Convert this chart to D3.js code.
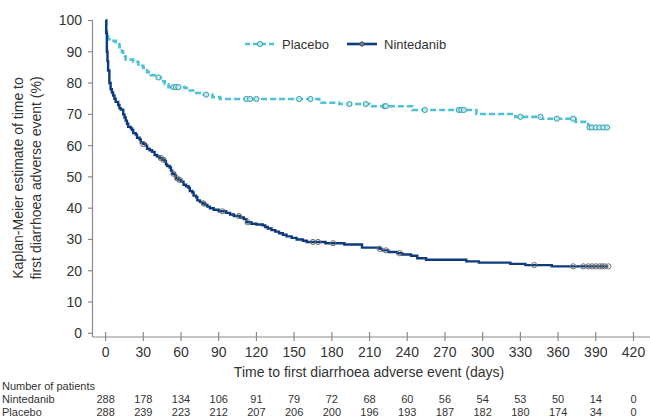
<!DOCTYPE html>
<html>
<head>
<meta charset="utf-8">
<script src="https://cdn.jsdelivr.net/npm/d3@7"></script>
<style>
  body { margin: 0; background: #fff; }
  text { font-family: "Liberation Sans", Arial, sans-serif; fill: #333; }
</style>
</head>
<body>
<div id="chart"></div>
<script>
const width = 650;
const height = 418;

// Kaplan-Meier steps [day, %]
const nintedanibSteps = [
  [0,100],[0.5,96],[1,90],[1.5,87],[2,84],[3,80],[4,78],[5,77],[6,76],[7,75],[8,74],[10,73],[11,72],
  [12,71.5],[14,70],[15,69],[16,68],[17,67],[18,66],[20,65.5],[21,65],[22,64],[24,63.5],[25,62.5],
  [27,62],[28,61],[30,60.5],[32,60],[33,59],[35,58.5],[37,58],[39,57],[41,56.5],[43,56],[45,55.5],
  [47,55],[48,54],[49,53.5],[51,53],[52,52],[53,51],[55,50.5],[56,49.5],[58,49],[60,48.5],[62,47.5],
  [64,47],[66,46.5],[67,45.5],[69,45],[70,44],[72,43.5],[73,42.5],[75,42],[77,41.5],[79,41],[81,40.5],
  [83,40],[86,39.5],[90,39],[96,38.5],[99,38],[102,37.5],[107,37],[110,36.5],[112,35.5],[116,35],
  [120,34.8],[125,34.5],[127,34],[129,33.5],[132,33],[135,32.5],[138,32],[141,31.5],[144,31],
  [148,30.5],[152,30],[157,29.6],[160,29.2],[175,28.8],[190,28.4],[204,27.4],[218,27],[220,26.5],
  [225,26],[232,25.6],[236,25.2],[243,24.8],[248,24],[255,23.5],[287,23],[297,22.6],[322,22.2],
  [334,21.8],[355,21.4],[400,21.4]
];
const placeboSteps = [
  [0,100],[0.5,96.5],[1,95],[2,94],[5,93.5],[8,92.5],[11,91.5],[13,90],[14,88.5],[16,87.5],[22,86.8],
  [26,85.5],[30,84.8],[33,83.5],[36,82.5],[40,81.8],[44,80.6],[47,79.6],[50,78.7],[63,78.4],[67,77.6],
  [71,76.8],[76,76.3],[85,75.5],[91,74.9],[170,73.7],[186,73.3],[210,72.6],[244,71.4],[295,70.1],
  [326,69.2],[347,68.6],[374,67.6],[384,65.8],[400,65.8]
];

// censored observations (days)
const nintedanibCensor = [30,44,46,54,57,59,78,93,106,113,165,169,181,218,223,234,341,372,380,384,387,390,393,395,397,400];
const placeboCensor = [42,54,56,58,80,112,115,120,154,163,194,207,222,223,254,281,283,285,330,346,359,372,385,387,390,393,396,399];

// number at risk
const riskDays = [0,30,60,90,120,150,180,210,240,270,300,330,360,390,420];
const nintedanibRisk = [288,178,134,106,91,79,72,68,60,56,54,53,50,14,0];
const placeboRisk = [288,239,223,212,207,206,200,196,193,187,182,180,174,34,0];

const yTicks = [0,10,20,30,40,50,60,70,80,90,100];

const cNint = "#0d3b7e";
const cPlac = "#4cc2d4";

const svg = d3.select("#chart").append("svg")
  .attr("width", width)
  .attr("height", height);

const x = d3.scaleLinear().domain([0, 420]).range([105.6, 633.5]);
const y = d3.scaleLinear().domain([0, 100]).range([333.3, 20.5]);

// axes
const axisColor = "#8a8a8a";
svg.append("line").attr("x1", 92.5).attr("x2", 92.5).attr("y1", 20).attr("y2", 337)
  .attr("stroke", axisColor).attr("stroke-width", 1.2);
svg.append("line").attr("x1", 92.5).attr("x2", 650).attr("y1", 337).attr("y2", 337)
  .attr("stroke", axisColor).attr("stroke-width", 1.2);

const yAxis = svg.append("g")
  .selectAll("g").data(yTicks).enter().append("g")
  .attr("transform", d => `translate(0,${y(d)})`);
yAxis.append("line").attr("x1", 88).attr("x2", 92.5).attr("stroke", axisColor).attr("stroke-width", 1.2);
yAxis.append("text").attr("x", 82).attr("dy", "0.35em").attr("text-anchor", "end")
  .style("font-size", "14px").text(d => d);

const xAxis = svg.append("g")
  .selectAll("g").data(riskDays).enter().append("g")
  .attr("transform", d => `translate(${x(d)},0)`);
xAxis.append("line").attr("y1", 332).attr("y2", 341).attr("stroke", axisColor).attr("stroke-width", 1.2);
xAxis.append("text").attr("y", 352).attr("dy", "0.35em").attr("text-anchor", "middle")
  .style("font-size", "14px").text(d => d);

// axis titles
svg.append("text").attr("x", 369).attr("y", 372).attr("dy", "0.35em").attr("text-anchor", "middle")
  .style("font-size", "14px").text("Time to first diarrhoea adverse event (days)");
const yTitle = svg.append("text").attr("transform", "translate(0,178) rotate(-90)")
  .attr("text-anchor", "middle").style("font-size", "14px");
yTitle.append("tspan").attr("x", 0).attr("y", 23).text("Kaplan-Meier estimate of time to");
yTitle.append("tspan").attr("x", 0).attr("y", 41).text("first diarrhoea adverse event (%)");

// curves
const line = d3.line().x(d => x(d[0])).y(d => y(d[1])).curve(d3.curveStepAfter);

svg.append("path").datum(placeboSteps).attr("d", line)
  .attr("fill", "none").attr("stroke", cPlac).attr("stroke-width", 2.6)
  .attr("stroke-dasharray", "6,3");
svg.append("path").datum(nintedanibSteps).attr("d", line)
  .attr("fill", "none").attr("stroke", cNint).attr("stroke-width", 2.4);

function survAt(steps, t) {
  let v = steps[0][1];
  for (const s of steps) { if (s[0] <= t) v = s[1]; }
  return v;
}

svg.append("g").selectAll("circle").data(placeboCensor).enter().append("circle")
  .attr("cx", d => x(d)).attr("cy", d => y(survAt(placeboSteps, d)))
  .attr("r", 2.6).attr("fill", "#bfe9ef").attr("stroke", "#3a9fb0").attr("stroke-width", 1);
svg.append("g").selectAll("circle").data(nintedanibCensor).enter().append("circle")
  .attr("cx", d => x(d)).attr("cy", d => y(survAt(nintedanibSteps, d)))
  .attr("r", 2.6).attr("fill", "none").attr("stroke", "#6d6d6d").attr("stroke-width", 1);

// legend
const lg = svg.append("g");
lg.append("line").attr("x1", 245).attr("x2", 276).attr("y1", 44).attr("y2", 44)
  .attr("stroke", cPlac).attr("stroke-width", 2.6).attr("stroke-dasharray", "5,3");
lg.append("circle").attr("cx", 260).attr("cy", 44).attr("r", 2.6)
  .attr("fill", "#bfe9ef").attr("stroke", "#3a9fb0");
lg.append("text").attr("x", 282).attr("y", 44).attr("dy", "0.35em").style("font-size", "13px").text("Placebo");
lg.append("line").attr("x1", 347).attr("x2", 377).attr("y1", 44).attr("y2", 44)
  .attr("stroke", cNint).attr("stroke-width", 2.6);
lg.append("circle").attr("cx", 362).attr("cy", 44).attr("r", 2.2)
  .attr("fill", "#6d7d99").attr("stroke", "#555");
lg.append("text").attr("x", 384).attr("y", 44).attr("dy", "0.35em").style("font-size", "13px").text("Nintedanib");

// number at risk table
const risk = svg.append("g").style("font-size", "11px");
risk.append("text").attr("x", 2).attr("y", 386).attr("dy", "0.35em").text("Number of patients");
risk.append("text").attr("x", 2).attr("y", 399.5).attr("dy", "0.35em").text("Nintedanib");
risk.append("text").attr("x", 2).attr("y", 412).attr("dy", "0.35em").text("Placebo");
risk.selectAll("text.n").data(nintedanibRisk).enter().append("text").attr("class", "n")
  .attr("x", (d, i) => x(riskDays[i])).attr("y", 399.5).attr("dy", "0.35em")
  .attr("text-anchor", "middle").text(d => d);
risk.selectAll("text.p").data(placeboRisk).enter().append("text").attr("class", "p")
  .attr("x", (d, i) => x(riskDays[i])).attr("y", 412).attr("dy", "0.35em")
  .attr("text-anchor", "middle").text(d => d);
</script>
</body>
</html>
